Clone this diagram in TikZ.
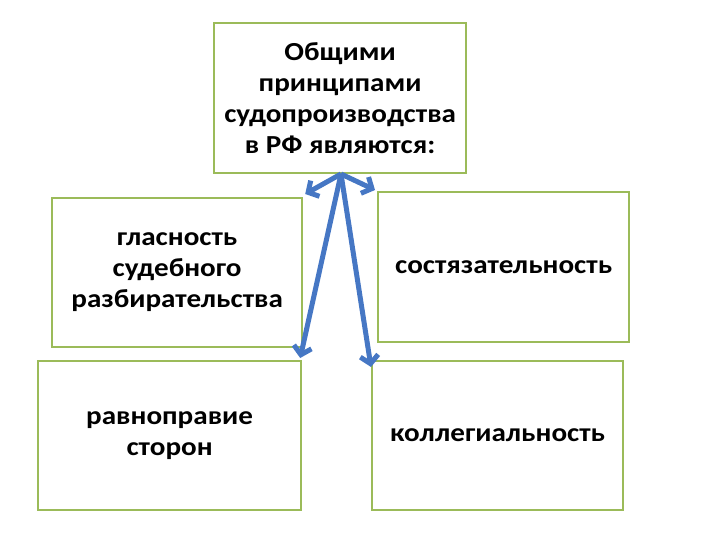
\documentclass[tikz,border=0pt]{standalone}
\usepackage{fontspec}
\setmainfont{Carlito}[FakeStretch=1.12]
\usetikzlibrary{arrows.meta,calc}
\definecolor{boxgreen}{HTML}{9BBB59}
\definecolor{arrowblue}{HTML}{4677C4}

\begin{document}
\begin{tikzpicture}[x=1pt,y=-1pt,font=\bfseries\fontsize{26}{31}\selectfont,
 box/.style={draw=boxgreen,line width=2.2pt,fill=white,align=center,anchor=north west,inner sep=0pt},
 con/.style={draw=arrowblue,line width=5pt,-{Straight Barb[length=8pt,width=18pt]}}]
\useasboundingbox (0,0) rectangle (720,540);
\node[box,minimum width=252pt,minimum height=150pt] (top) at (213,22) {Общими\\принципами\\судопроизводства\\в РФ являются:};
\node[box,minimum width=250pt,minimum height=149pt] (gl) at (51,197) {гласность\\судебного\\разбирательства};
\node[box,minimum width=251pt,minimum height=150pt] (sost) at (377,191) {состязательность};
\node[box,minimum width=263pt,minimum height=149pt] (ravn) at (37,360) {равноправие\\сторон};
\node[box,minimum width=251pt,minimum height=149pt] (kol) at (371,360) {коллегиальность};
\coordinate (hub) at (341,174);
\draw[con] (hub) -- ($(gl.north east)+(2,-3)$);
\draw[con] (hub) -- ($(sost.north west)+(-2,-1)$);
\draw[con] (hub) -- ($(ravn.north east)+(-2,-2)$);
\draw[con] (hub) -- ($(kol.north west)+(0,7)$);
\end{tikzpicture}
\end{document}
